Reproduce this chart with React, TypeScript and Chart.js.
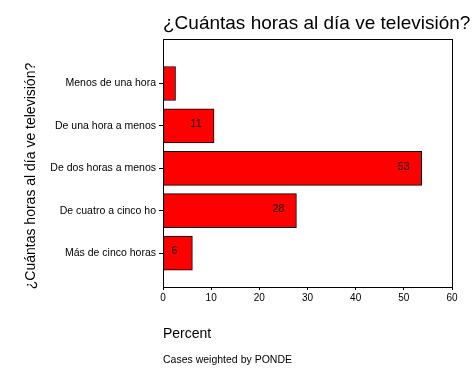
import React, { useEffect, useRef } from "react";
import { Chart, registerables } from "chart.js";

Chart.register(...registerables);

const categories = [
  "Menos de una hora",
  "De una hora a menos",
  "De dos horas a menos",
  "De cuatro a cinco ho",
  "Más de cinco horas",
];
const percents = [2.6, 10.6, 53.7, 27.7, 6.1];
const valueLabels = ["", "11", "53", "28", "6"];
const xTicks = [0, 10, 20, 30, 40, 50, 60];
const titleText = "¿Cuántas horas al día ve televisión?";
const yTitleText = "¿Cuántas horas al día ve televisión?";
const xTitleText = "Percent";
const footnoteText = "Cases weighted by PONDE";

const FONT = "'Liberation Sans', Arial, sans-serif";

const decorPlugin = {
  id: "decor",
  afterDatasetsDraw(chart: any) {
    const { ctx, chartArea } = chart;
    const { left, right, top, bottom } = chartArea;
    ctx.save();
    // box
    ctx.strokeStyle = "#000";
    ctx.lineWidth = 1;
    ctx.strokeRect(Math.round(left) + 0.5, Math.round(top) + 0.5, Math.round(right - left), Math.round(bottom - top));
    // value labels
    const meta = chart.getDatasetMeta(0);
    ctx.fillStyle = "#000";
    ctx.font = `10.5px ${FONT}`;
    ctx.textAlign = "center";
    ctx.textBaseline = "middle";
    meta.data.forEach((el: any, i: number) => {
      const t = valueLabels[i];
      if (!t) return;
      ctx.fillText(t, el.x - 18, el.y - 1.5);
    });
    // title
    ctx.textAlign = "left";
    ctx.textBaseline = "alphabetic";
    ctx.font = `19px ${FONT}`;
    ctx.fillText(titleText, left, 29);
    // x title
    ctx.font = `14px ${FONT}`;
    ctx.fillText(xTitleText, left, 338);
    // footnote
    ctx.font = `10.5px ${FONT}`;
    ctx.fillText(footnoteText, left, 363);
    // y title
    ctx.translate(35, 176);
    ctx.rotate(-Math.PI / 2);
    ctx.textAlign = "center";
    ctx.font = `14px ${FONT}`;
    ctx.fillText(yTitleText, 0, 0);
    ctx.restore();
  },
};

export default function App() {
  const ref = useRef<HTMLCanvasElement | null>(null);
  useEffect(() => {
    document.body.style.margin = "0";
    const canvas = ref.current;
    if (!canvas) return;
    const chart = new Chart(canvas, {
      type: "bar",
      data: {
        datasets: [
          {
            data: percents.map((v, i) => ({ x: v, y: i + 1 })),
            backgroundColor: "#ff0000",
            borderColor: "#000000",
            borderWidth: 1,
            borderSkipped: false,
            barThickness: 34,
          } as any,
        ],
      },
      options: {
        indexAxis: "y",
        responsive: false,
        animation: false,
        devicePixelRatio: 1,
        layout: { padding: { top: 39, right: 22, left: 0, bottom: 0 } },
        plugins: {
          legend: { display: false },
          tooltip: { enabled: false },
          title: { display: false },
        },
        scales: {
          x: {
            type: "linear",
            min: 0,
            max: 60,
            offset: false,
            afterBuildTicks: (scale: any) => {
              scale.ticks = xTicks.map((v) => ({ value: v }));
            },
            afterFit: (scale: any) => {
              scale.height = 91;
            },
            border: { display: false },
            grid: {
              display: true,
              offset: false,
              drawOnChartArea: false,
              drawTicks: true,
              tickLength: 3,
              color: "#000",
            },
            ticks: {
              color: "#000",
              padding: 2,
              maxRotation: 0,
              font: { family: FONT, size: 10 },
            },
          },
          y: {
            type: "linear",
            min: -0.05,
            max: 5.8,
            reverse: true,
            offset: false,
            afterBuildTicks: (scale: any) => {
              scale.ticks = categories.map((_, i) => ({ value: i + 1 }));
            },
            afterFit: (scale: any) => {
              scale.width = 163;
            },
            border: { display: false },
            grid: {
              display: true,
              offset: false,
              drawOnChartArea: false,
              drawTicks: true,
              tickLength: 4,
              color: "#000",
            },
            ticks: {
              color: "#000",
              padding: 3,
              autoSkip: false,
              font: { family: FONT, size: 10.5 },
              callback: (v: any) => categories[Number(v) - 1] ?? "",
            },
          },
        },
      },
      plugins: [decorPlugin],
    } as any);
    return () => chart.destroy();
  }, []);
  return (
    <div style={{ width: 474, height: 378, background: "#fff" }}>
      <canvas ref={ref} width={474} height={378} style={{ display: "block" }} />
    </div>
  );
}
